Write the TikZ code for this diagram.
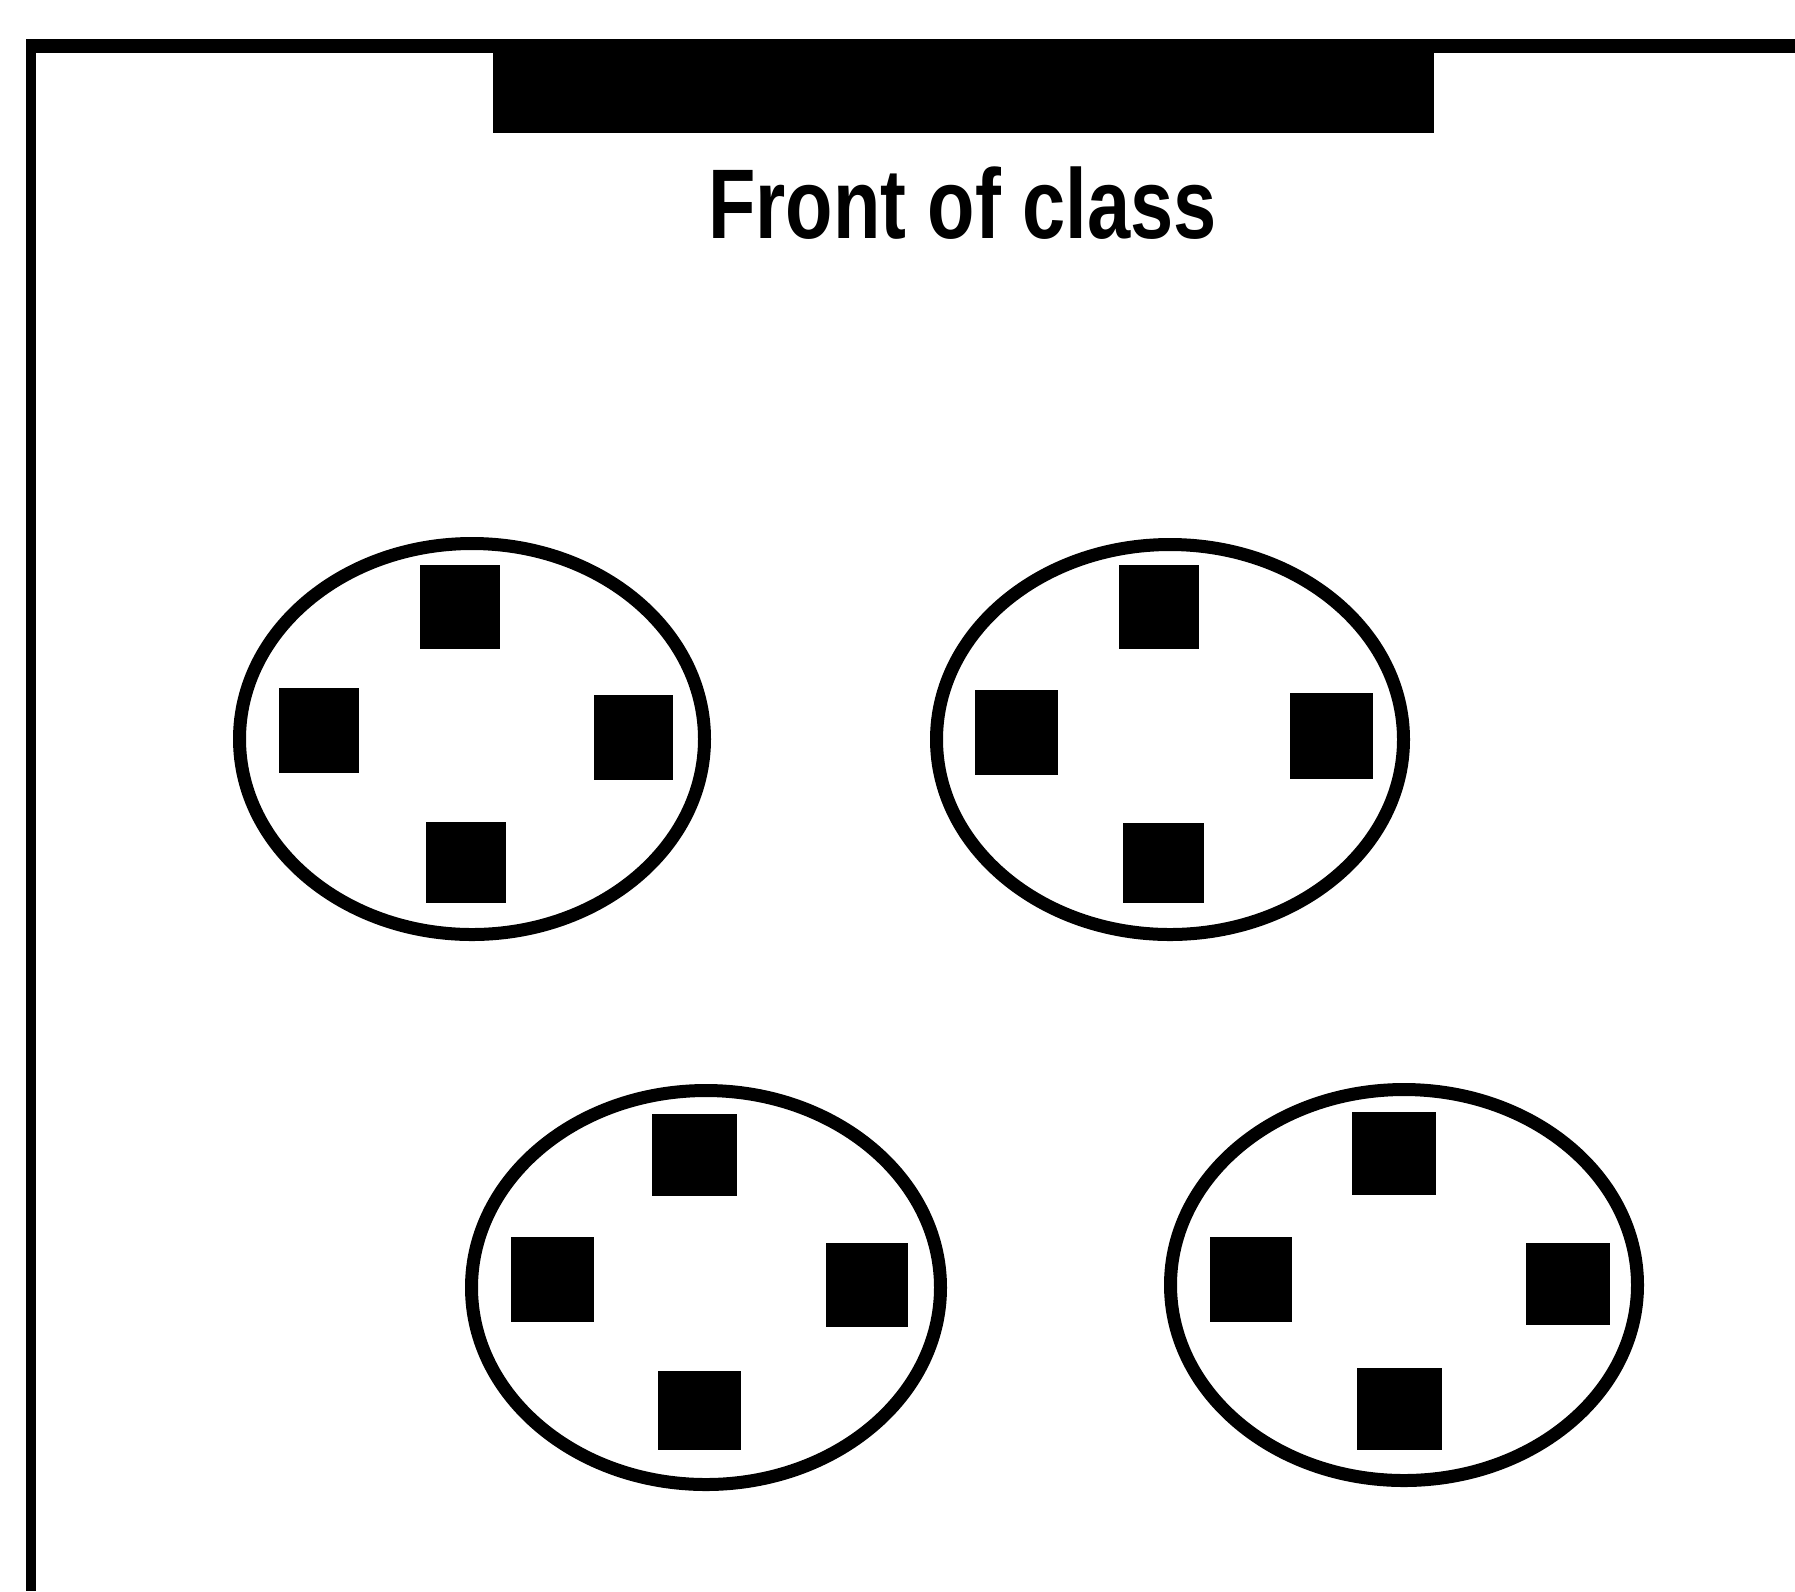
\documentclass[tikz,border=0pt]{standalone}
\usepackage{fontspec}
\setmainfont{Liberation Sans}
\usetikzlibrary{shapes.geometric}
\tikzset{
  table/.style={draw=black, line width=13pt, shape=ellipse, inner sep=0pt, fill=none},
  seat/.style={fill=black, draw=none, shape=rectangle, inner sep=0pt},
  wall/.style={draw=black, line cap=butt},
}
\begin{document}
\begin{tikzpicture}[x=1pt,y=-1pt]
\useasboundingbox (0,0) rectangle (1795,1591);
% room walls (cropped frame)
\coordinate (wtl) at (26,46);
\coordinate (wtr) at (1795,46);
\coordinate (wlt) at (31,39);
\coordinate (wlb) at (31,1591);
\draw[wall, line width=14pt] (wtl) -- (wtr);
\draw[wall, line width=10pt] (wlt) -- (wlb);
% board
\node[fill=black, draw=none, inner sep=0pt, minimum width=941pt, minimum height=90pt] (board) at (963.5,88) {};
% label
\node[anchor=base, inner sep=0pt] (label) at (962.5,238) {\scalebox{0.784}[1]{\fontsize{99}{110}\selectfont\bfseries Front of class}};
% table 1
\node[table, minimum width=465pt, minimum height=391pt] (t1) at (472,739) {};
\node[seat, minimum width=80pt, minimum height=84pt] (t1t) at (460,607) {};
\node[seat, minimum width=80pt, minimum height=85pt] (t1l) at (319,730.5) {};
\node[seat, minimum width=79pt, minimum height=85pt] (t1r) at (633.5,737.5) {};
\node[seat, minimum width=80pt, minimum height=81pt] (t1b) at (466,862.5) {};
% table 2
\node[table, minimum width=467pt, minimum height=390pt] (t2) at (1170,739.5) {};
\node[seat, minimum width=80pt, minimum height=84pt] (t2t) at (1159,607) {};
\node[seat, minimum width=83pt, minimum height=85pt] (t2l) at (1016.5,732.5) {};
\node[seat, minimum width=83pt, minimum height=86pt] (t2r) at (1331.5,736) {};
\node[seat, minimum width=81pt, minimum height=80pt] (t2b) at (1163.5,863) {};
% table 3
\node[table, minimum width=469pt, minimum height=394pt] (t3) at (706,1287.5) {};
\node[seat, minimum width=85pt, minimum height=82pt] (t3t) at (694.5,1155) {};
\node[seat, minimum width=83pt, minimum height=85pt] (t3l) at (552.5,1279.5) {};
\node[seat, minimum width=82pt, minimum height=84pt] (t3r) at (867,1285) {};
\node[seat, minimum width=83pt, minimum height=79pt] (t3b) at (699.5,1410.5) {};
% table 4
\node[table, minimum width=467pt, minimum height=391pt] (t4) at (1404,1285) {};
\node[seat, minimum width=84pt, minimum height=83pt] (t4t) at (1394,1153.5) {};
\node[seat, minimum width=82pt, minimum height=85pt] (t4l) at (1251,1279.5) {};
\node[seat, minimum width=84pt, minimum height=82pt] (t4r) at (1568,1284) {};
\node[seat, minimum width=85pt, minimum height=82pt] (t4b) at (1399.5,1409) {};
\end{tikzpicture}
\end{document}
